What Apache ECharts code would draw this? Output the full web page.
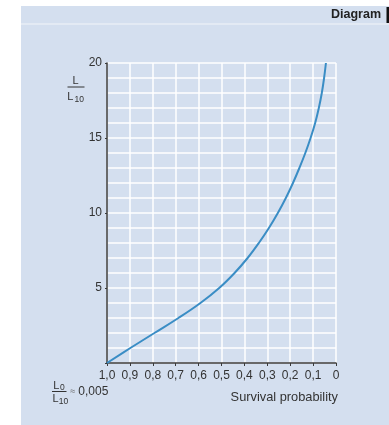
<!DOCTYPE html>
<html><head><meta charset="utf-8">
<script src="https://cdn.jsdelivr.net/npm/echarts@6/dist/echarts.min.js"></script>
<style>html,body{margin:0;padding:0;background:#fff}#c{width:389px;height:425px}</style>
</head><body><div id="c"></div>
<script>
// Survival probability (x) and L/L10 (y)
const survival = [1.0, 0.898, 0.793, 0.688, 0.592, 0.51, 0.443, 0.386, 0.337, 0.293, 0.254, 0.219, 0.188, 0.16, 0.134, 0.111, 0.091, 0.075, 0.062, 0.052, 0.044];
const lifeRatio = [0, 1, 2, 3, 4, 5, 6, 7, 8, 9, 10, 11, 12, 13, 14, 15, 16, 17, 18, 19, 20];
const xTickLabels = ['1,0','0,9','0,8','0,7','0,6','0,5','0,4','0,3','0,2','0,1','0'];
const yTickLabels = [5, 10, 15, 20];

const txt = '#333';
const font = 'Liberation Sans, Arial, sans-serif';
const chart = echarts.init(document.getElementById('c'), null, {renderer: 'canvas'});
chart.setOption({
  backgroundColor: '#d4dfef',
  animation: false,
  grid: {left: 107, top: 63, right: 53, bottom: 62},
  xAxis: {
    type: 'value', min: 0, max: 1, interval: 0.1, inverse: true,
    axisLine: {onZero: false, lineStyle: {color: '#3a3a3a', width: 1.5}},
    axisTick: {show: true, length: 3, lineStyle: {color: '#3a3a3a'}},
    axisLabel: {
      color: txt, fontSize: 12, fontFamily: font, margin: 7,
      formatter: v => xTickLabels[Math.round((1 - v) * 10)]
    },
    splitLine: {show: true, lineStyle: {color: '#ffffff', width: 1.5}}
  },
  yAxis: {
    type: 'value', min: 0, max: 20, interval: 5, position: 'left',
    axisLine: {show: true, onZero: false, lineStyle: {color: '#3a3a3a', width: 1.5}},
    axisTick: {show: true, length: 2, lineStyle: {color: '#3a3a3a'}},
    axisLabel: {
      color: txt, fontSize: 12, fontFamily: font, margin: 5,
      formatter: v => yTickLabels.indexOf(v) >= 0 ? String(v) : ''
    },
    splitLine: {show: true, lineStyle: {color: '#ffffff', width: 1.5}},
    minorTick: {show: false, splitNumber: 5},
    minorSplitLine: {show: true, lineStyle: {color: '#ffffff', width: 1.5}}
  },
  series: [{
    type: 'line',
    data: survival.map((s, i) => [s, lifeRatio[i]]),
    smooth: 0.4,
    showSymbol: false,
    lineStyle: {color: '#3a8dc5', width: 2},
    z: 5
  }],
  graphic: [
    {type: 'rect', shape: {x: 0, y: 0, width: 389, height: 6}, style: {fill: '#fff'}},
    {type: 'rect', shape: {x: 0, y: 0, width: 21, height: 425}, style: {fill: '#fff'}},
    {type: 'line', shape: {x1: 21, y1: 24, x2: 389, y2: 24}, style: {stroke: '#ffffff', lineWidth: 1, opacity: 0.7}},
    {type: 'text', x: 381, y: 15, style: {text: 'Diagram', fill: '#222', font: 'bold 12.5px ' + font, textAlign: 'right', textVerticalAlign: 'middle'}},
    {type: 'rect', shape: {x: 386.5, y: 7, width: 2.5, height: 16}, style: {fill: '#111'}},
    // y-axis title L / L10
    {type: 'text', x: 75.5, y: 80.5, style: {text: 'L', fill: txt, font: '11px ' + font, textAlign: 'center', textVerticalAlign: 'middle'}},
    {type: 'line', shape: {x1: 67.5, y1: 87, x2: 84.5, y2: 87}, style: {stroke: txt, lineWidth: 1}},
    {type: 'text', x: 70.3, y: 97.2, style: {text: 'L', fill: txt, font: '11px ' + font, textAlign: 'center', textVerticalAlign: 'middle'}},
    {type: 'text', x: 79.2, y: 99.2, style: {text: '10', fill: txt, font: '8.5px ' + font, textAlign: 'center', textVerticalAlign: 'middle'}},
    // L0 / L10 ≈ 0,005
    {type: 'text', x: 56.3, y: 385.8, style: {text: 'L', fill: txt, font: '11px ' + font, textAlign: 'center', textVerticalAlign: 'middle'}},
    {type: 'text', x: 62.3, y: 387.8, style: {text: '0', fill: txt, font: '8.5px ' + font, textAlign: 'center', textVerticalAlign: 'middle'}},
    {type: 'line', shape: {x1: 52, y1: 391.5, x2: 66.5, y2: 391.5}, style: {stroke: txt, lineWidth: 1}},
    {type: 'text', x: 55.5, y: 399.3, style: {text: 'L', fill: txt, font: '11px ' + font, textAlign: 'center', textVerticalAlign: 'middle'}},
    {type: 'text', x: 63.5, y: 402, style: {text: '10', fill: txt, font: '8.5px ' + font, textAlign: 'center', textVerticalAlign: 'middle'}},
    {type: 'text', x: 72.8, y: 392, style: {text: '≈', fill: '#666', font: '9px ' + font, textAlign: 'center', textVerticalAlign: 'middle'}},
    {type: 'text', x: 78.3, y: 391.5, style: {text: '0,005', fill: txt, font: '12px ' + font, textAlign: 'left', textVerticalAlign: 'middle'}},
    // x-axis title
    {type: 'text', x: 338, y: 397.5, style: {text: 'Survival probability', fill: txt, font: '12.8px ' + font, textAlign: 'right', textVerticalAlign: 'middle'}}
  ]
});
</script></body></html>
